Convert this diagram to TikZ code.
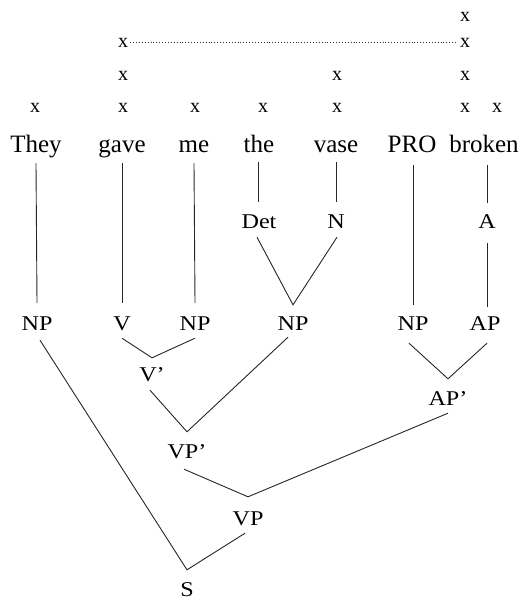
\documentclass[tikz,border=0pt]{standalone}
\usepackage{fontspec}
\setmainfont{Liberation Serif}
\newfontfamily\catfont[FakeStretch=1.15,Ligatures=TeX]{Liberation Serif}
\usetikzlibrary{calc}
\begin{document}
\begin{tikzpicture}[x=1pt,y=-1pt,
  word/.style={anchor=base,inner sep=0pt,font=\fontsize{25}{29}\selectfont,text height=17pt,text depth=0pt},
  cat/.style={anchor=base,inner sep=0pt,font=\catfont\fontsize{21}{25}\selectfont,text height=14pt,text depth=0pt},
  gridx/.style={anchor=base,inner sep=0pt,font=\fontsize{20}{24}\selectfont},
  branch/.style={line width=0.9pt,black!85},
  assoc/.style={dotted,line width=0.9pt,black!80}]
\useasboundingbox (0,0) rectangle (521,600);

% metrical grid
\node[gridx] (x1a) at (465,21) {x};
\node[gridx] (x2a) at (123,47) {x};
\node[gridx] (x2b) at (465,47) {x};
\node[gridx] (x3a) at (123,80) {x};
\node[gridx] (x3b) at (337,80) {x};
\node[gridx] (x3c) at (465,80) {x};
\node[gridx] (x4a) at (35,112) {x};
\node[gridx] (x4b) at (123,112) {x};
\node[gridx] (x4c) at (195,112) {x};
\node[gridx] (x4d) at (263,112) {x};
\node[gridx] (x4e) at (337,112) {x};
\node[gridx] (x4f) at (465,112) {x};
\node[gridx] (x4g) at (497,112) {x};
\draw[assoc,shorten <=2pt,shorten >=2pt] (x2a.east) -- (x2b.west);

% words
\node[word] (w1) at (36,152) {They};
\node[word] (w2) at (122,152) {gave};
\node[word] (w3) at (194,152) {me};
\node[word] (w4) at (259,152) {the};
\node[word] (w5) at (336,152) {vase};
\node[word] (w6) at (412,152) {PRO};
\node[word] (w7) at (484,152) {broken};

% lexical categories
\node[cat] (det) at (259,228) {Det};
\node[cat] (n) at (336,228) {N};
\node[cat] (a) at (487,228) {A};

% phrasal row
\node[cat] (np1) at (37,330) {NP};
\node[cat] (v) at (122,330) {V};
\node[cat] (np2) at (195,330) {NP};
\node[cat] (np3) at (293,330) {NP};
\node[cat] (np4) at (413,330) {NP};
\node[cat] (ap) at (485,330) {AP};

% higher projections
\node[cat] (vbar) at (152,381) {V’};
\node[cat] (apbar) at (448,405) {AP’};
\node[cat] (vpbar) at (187,458) {VP’};
\node[cat] (vp) at (248,525) {VP};
\node[cat] (s) at (187,596) {S};

% word to category lines
\draw[branch] ($(w1.south)+(0,11)$) -- ($(np1.north)+(0,-13)$);
\draw[branch] ($(w2.south)+(0,11)$) -- ($(v.north)+(0,-13)$);
\draw[branch] ($(w3.south)+(0,11)$) -- ($(np2.north)+(0,-13)$);
\draw[branch] ($(w4.south)+(-1,10)$) -- ($(det.north)+(-1,-12)$);
\draw[branch] ($(w5.south)+(0,10)$) -- ($(n.north)+(0,-12)$);
\draw[branch] ($(w6.south)+(1,13)$) -- ($(np4.north)+(0,-11)$);
\draw[branch] ($(w7.south)+(3,13)$) -- ($(a.north)+(0,-11)$);
\draw[branch] ($(a.south)+(0,15)$) -- ($(ap.north)+(2,-9)$);

% branching
\draw[branch] ($(det.south)+(-2,9)$) -- ($(np3.north)+(0,-11)$) -- ($(n.south)+(1,9)$);
\draw[branch] ($(v.south)+(0,8)$) -- ($(vbar.north)+(0,-9)$) -- ($(np2.south)+(0,8)$);
\draw[branch] ($(vbar.south)+(-2,9)$) -- ($(vpbar.north)+(0,-12)$) -- ($(np3.south)+(-5,7)$);
\draw[branch] ($(np4.south)+(-4,13)$) -- ($(apbar.north)+(0,-12)$) -- ($(ap.south)+(2,13)$);
\draw[branch] ($(vpbar.south)+(-3,11)$) -- ($(vp.north)+(0,-14)$) -- ($(apbar.south)+(0,8)$);
\draw[branch] ($(vp.south)+(-3,8)$) -- ($(s.north)+(0,-12)$) -- ($(np1.south)+(3,10)$);
\end{tikzpicture}
\end{document}
